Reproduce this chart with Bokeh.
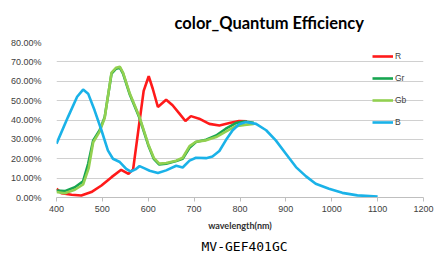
from bokeh.plotting import figure
from bokeh.models import Legend, LegendItem, Title, FixedTicker, PrintfTickFormatter, Range1d
from bokeh.embed import file_html
from bokeh.resources import INLINE

# wavelength (nm) / quantum efficiency (%)
r_nm = [400, 411, 433, 454, 476, 498, 520, 541, 557, 567, 578, 590, 601, 610, 621, 639, 653, 668, 681, 693, 711, 733, 755, 777, 798, 815]
r_qe = [4.5, 2.2, 1.4, 1.0, 2.8, 6.2, 10.5, 14.3, 12.2, 14.5, 34.0, 55.0, 62.6, 56.0, 46.7, 50.5, 47.6, 43.3, 39.5, 42.0, 40.7, 38.0, 37.2, 38.4, 39.5, 39.3]

gr_nm = [400, 418, 440, 458, 469, 480, 494, 505, 520, 530, 538, 545, 560, 581, 600, 612, 624, 639, 661, 675, 690, 704, 726, 748, 769, 791, 810, 830]
gr_qe = [3.6, 3.3, 5.3, 8.4, 17.4, 29.5, 34.7, 41.5, 64.0, 66.5, 67.0, 64.0, 53.0, 41.0, 27.0, 20.0, 17.0, 17.4, 18.8, 20.0, 25.7, 28.6, 29.8, 32.0, 35.5, 38.4, 39.2, 38.5]

gb_nm = [400, 418, 440, 458, 470, 480, 494, 505, 520, 530, 538, 545, 560, 581, 600, 612, 624, 639, 661, 675, 690, 704, 726, 748, 769, 791, 810, 830]
gb_qe = [2.8, 2.2, 4.0, 6.7, 15.0, 28.5, 34.0, 41.0, 64.5, 67.0, 67.5, 64.5, 53.5, 41.5, 27.5, 20.5, 17.5, 17.8, 19.0, 20.5, 26.5, 28.8, 29.5, 31.2, 34.0, 36.8, 37.5, 38.0]

b_nm = [400, 425, 445, 458, 469, 483, 498, 512, 523, 538, 552, 562, 572, 581, 592, 603, 621, 639, 661, 675, 690, 704, 726, 740, 755, 769, 784, 798, 813, 835, 857, 878, 900, 922, 944, 965, 994, 1023, 1056, 1100]
b_qe = [27.8, 41.5, 52.0, 55.7, 53.6, 45.0, 34.7, 24.3, 20.0, 18.3, 14.8, 13.4, 14.5, 16.2, 15.0, 13.8, 12.6, 14.0, 16.4, 15.5, 19.0, 20.5, 20.3, 21.2, 24.0, 29.5, 34.7, 37.8, 39.0, 38.0, 34.7, 29.5, 22.6, 15.7, 10.9, 7.1, 4.5, 2.4, 1.1, 0.5]

x_ticks = [400, 500, 600, 700, 800, 900, 1000, 1100, 1200]
y_ticks = [0, 10, 20, 30, 40, 50, 60, 70, 80]

p = figure(frame_width=367, frame_height=155, min_border_left=56, min_border_right=12,
           min_border_top=41, min_border_bottom=6,
           x_range=Range1d(400, 1200), y_range=Range1d(0, 80),
           output_backend="svg", toolbar_location=None)
p.outline_line_color = None
p.background_fill_color = "white"
p.border_fill_color = "white"

ax = p.xaxis[0]
ax.ticker = FixedTicker(ticks=x_ticks)
ax.axis_line_color = "#bfbfbf"
ax.major_tick_line_color = "#bfbfbf"
ax.major_tick_out = 4
ax.major_tick_in = 0
ax.minor_tick_line_color = None
ax.major_label_text_font = "Liberation Sans"
ax.major_label_text_font_size = "9px"
ax.major_label_text_color = "#404040"
ax.major_label_standoff = 4
ax.axis_label = "wavelength(nm)"
ax.axis_label_text_font = "Lato"
ax.axis_label_text_font_style = "bold"
ax.axis_label_text_font_size = "9px"
ax.axis_label_text_color = "#303030"
ax.axis_label_standoff = 5

ay = p.yaxis[0]
ay.ticker = FixedTicker(ticks=y_ticks)
ay.formatter = PrintfTickFormatter(format="%.2f%%")
ay.axis_line_color = None
ay.major_tick_line_color = None
ay.minor_tick_line_color = None
ay.major_label_text_font = "Liberation Sans"
ay.major_label_text_font_size = "9px"
ay.major_label_text_color = "#404040"
ay.major_label_standoff = 9

p.xgrid.grid_line_color = None
p.ygrid.ticker = FixedTicker(ticks=y_ticks)
p.ygrid.grid_line_color = "#d0d0d0"
p.ygrid.grid_line_width = 1

w = 2.6
lr = p.line(r_nm, r_qe, line_color="#ff1a1a", line_width=w)
lgr = p.line(gr_nm, gr_qe, line_color="#17a550", line_width=w)
lgb = p.line(gb_nm, gb_qe, line_color="#92d050", line_width=w)
lb = p.line(b_nm, b_qe, line_color="#1ab2e8", line_width=w)

legend = Legend(items=[LegendItem(label="R", renderers=[lr]),
                       LegendItem(label="Gr", renderers=[lgr]),
                       LegendItem(label="Gb", renderers=[lgb]),
                       LegendItem(label="B", renderers=[lb])],
                location=(316, 65), padding=0, margin=0, spacing=2,
                glyph_width=21, glyph_height=20, label_height=20,
                label_standoff=2, label_text_font="Liberation Sans",
                label_text_font_size="8.5px", label_text_color="#404040",
                background_fill_alpha=0, border_line_alpha=0)
p.add_layout(legend)

p.title = Title(text="color_Quantum Efficiency", align="left", offset=118, standoff=20,
                text_font="Lato", text_font_style="bold", text_font_size="16.5px",
                text_color="#000000")

p.add_layout(Title(text="MV-GEF401GC", align="left", offset=145, standoff=6,
                   text_font="DejaVu Sans Mono", text_font_style="normal",
                   text_font_size="13px", text_color="#000000"), "below")

open("out.html", "w").write(file_html(p, INLINE))
